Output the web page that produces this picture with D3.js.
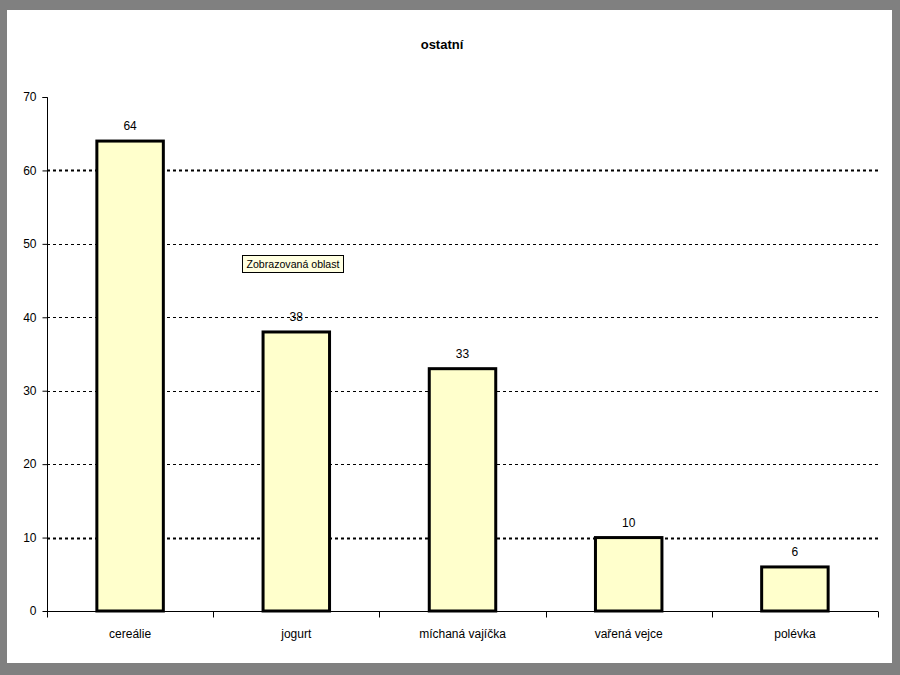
<!DOCTYPE html>
<html><head><meta charset="utf-8">
<script src="https://cdn.jsdelivr.net/npm/d3@7"></script>
<style>html,body{margin:0;padding:0;background:#808080;}svg{display:block;}</style>
</head><body>
<script>
const categories = ["cereálie", "jogurt", "míchaná vajíčka", "vařená vejce", "polévka"];
const values = [64, 38, 33, 10, 6];
const yTicks = [0, 10, 20, 30, 40, 50, 60, 70];
const title = "ostatní";
const tooltipText = "Zobrazovaná oblast";

const W = 900, H = 675;
const svg = d3.select("body").append("svg").attr("width", W).attr("height", H);
svg.append("rect").attr("x",0).attr("y",0).attr("width",W).attr("height",H).attr("fill","#808080");
svg.append("rect").attr("x",7).attr("y",10).attr("width",885).attr("height",653).attr("fill","#fff");

const font = "'Liberation Sans', Arial, sans-serif";
const x0 = 47, x1 = 878, yTop = 97, yBot = 611;
const x = d3.scaleBand().domain(categories).range([x0, x1]).paddingInner(0.6).paddingOuter(0.3);
const y = d3.scaleLinear().domain([0, 70]).range([yBot, yTop]);

// gridlines
svg.append("g").selectAll("line").data(yTicks.filter(t => t > 0 && t < 70)).join("line")
  .attr("x1", x0).attr("x2", x1)
  .attr("y1", d => Math.round(y(d)) + 0.5).attr("y2", d => Math.round(y(d)) + 0.5)
  .attr("stroke", "#000").attr("stroke-width", d => (d === 10 || d === 60) ? 1.8 : 1)
  .attr("stroke-dasharray", "3,3");

// bars
svg.append("g").selectAll("rect").data(values).join("rect")
  .attr("x", (d, i) => x(categories[i]))
  .attr("y", d => y(d))
  .attr("width", x.bandwidth())
  .attr("height", d => yBot - y(d))
  .attr("fill", "#ffffcc").attr("stroke", "#000").attr("stroke-width", 3);

// value labels
svg.append("g").selectAll("text").data(values).join("text")
  .attr("x", (d, i) => x(categories[i]) + x.bandwidth() / 2)
  .attr("y", d => y(d) - 11)
  .attr("text-anchor", "middle").attr("font-family", font).attr("font-size", 12)
  .attr("fill", "#000").text(d => d);

// y axis
const yAxis = d3.axisLeft(y).tickValues(yTicks).tickSize(5).tickPadding(6);
const gy = svg.append("g").attr("transform", `translate(${x0 + 0.5},0)`).call(yAxis);
gy.selectAll("text").attr("font-family", font).attr("font-size", 12).attr("fill", "#000");
gy.selectAll("line,path").attr("stroke", "#000");
gy.select(".domain").attr("d", `M-5,${yTop + 0.5}H0V${yBot + 0.5}`);

// x axis
const gx = svg.append("g").attr("transform", `translate(0,${yBot + 0.5})`);
gx.append("line").attr("x1", x0).attr("x2", x1).attr("y1", 0).attr("y2", 0).attr("stroke", "#000");
const bounds = d3.range(categories.length + 1).map(i => x0 + i * (x1 - x0) / categories.length);
gx.selectAll("line.tk").data(bounds).join("line").attr("class", "tk")
  .attr("x1", d => Math.round(d) + 0.5).attr("x2", d => Math.round(d) + 0.5)
  .attr("y1", 0).attr("y2", 6).attr("stroke", "#000");
gx.selectAll("text").data(categories).join("text")
  .attr("x", d => x(d) + x.bandwidth() / 2).attr("y", 26)
  .attr("text-anchor", "middle").attr("font-family", font).attr("font-size", 12)
  .attr("fill", "#000").text(d => d);

// title
svg.append("text").attr("x", 442).attr("y", 49).attr("text-anchor", "middle")
  .attr("font-family", font).attr("font-size", 13).attr("font-weight", "bold").text(title);

// tooltip
const tt = svg.append("g").attr("transform", "translate(242.5,255.5)");
tt.append("rect").attr("width", 101).attr("height", 17).attr("fill", "#ffffe1").attr("stroke", "#000").attr("stroke-width", 1);
tt.append("text").attr("x", 4).attr("y", 12.5).attr("font-family", font).attr("font-size", 11)
  .attr("textLength", 93).attr("lengthAdjust", "spacingAndGlyphs").text(tooltipText);
</script>
</body></html>
